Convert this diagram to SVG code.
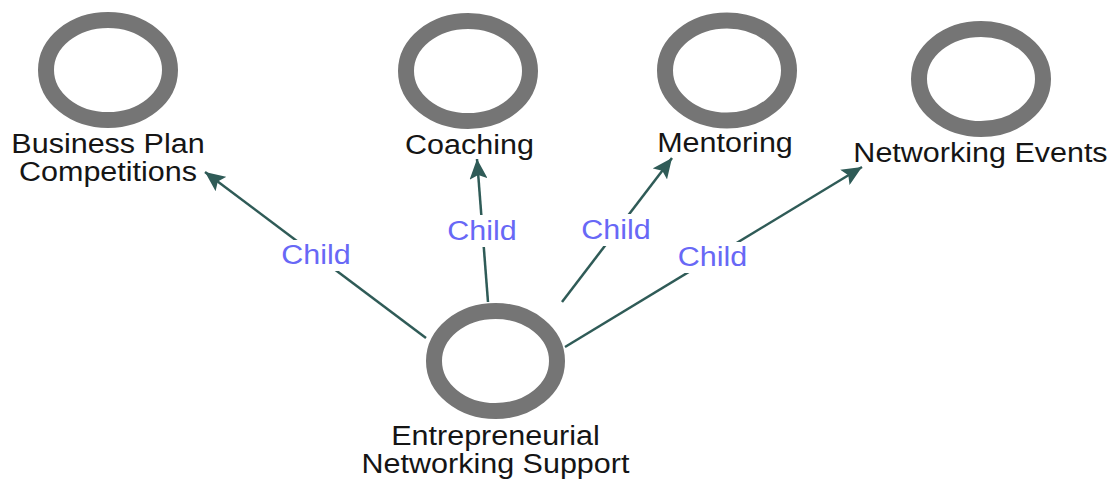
<svg xmlns="http://www.w3.org/2000/svg" width="1117" height="479" viewBox="0 0 1117 479">
  <style>
    .ring { fill: #ffffff; stroke: #757575; stroke-width: 16; }
    .lbl { font-family: "Liberation Sans", Arial, sans-serif; font-size: 28px; fill: #151515; text-anchor: middle; }
    .edge { stroke: #2f5b57; stroke-width: 2.5; fill: none; marker-end: url(#arrow); }
    .elbl { font-family: "Liberation Sans", Arial, sans-serif; font-size: 28px; fill: #6868f6; text-anchor: middle; }
    .lblbg { fill: #ffffff; }
  </style>
  <defs>
    <marker id="arrow" viewBox="0 0 20 18" refX="20" refY="9" markerWidth="20" markerHeight="18" markerUnits="userSpaceOnUse" orient="auto">
      <path d="M0,0 L20,9 L0,18 L4,9 Z" fill="#2f5b57"/>
    </marker>
  </defs>
  <rect x="0" y="0" width="1117" height="479" fill="#ffffff"/>

  <g id="connectors">
    <line class="edge" x1="426" y1="338" x2="205" y2="172"/>
    <line class="edge" x1="488" y1="302" x2="477" y2="159"/>
    <line class="edge" x1="562" y1="302" x2="672" y2="158"/>
    <line class="edge" x1="565" y1="347" x2="862" y2="167"/>
    <rect class="lblbg" x="279" y="240" width="74" height="31"/>
    <rect class="lblbg" x="445" y="215" width="74" height="32"/>
    <rect class="lblbg" x="579" y="214" width="74" height="32"/>
    <rect class="lblbg" x="675" y="242" width="75" height="31"/>
    <text class="elbl" transform="translate(316 263.5) scale(1.09 1)">Child</text>
    <text class="elbl" transform="translate(482 239.5) scale(1.09 1)">Child</text>
    <text class="elbl" transform="translate(616 238.5) scale(1.09 1)">Child</text>
    <text class="elbl" transform="translate(712.5 266) scale(1.09 1)">Child</text>
  </g>

  <g id="node-business-plan">
    <ellipse class="ring" cx="108" cy="70" rx="62" ry="50"/>
    <text class="lbl" transform="translate(108 153) scale(1.09 1)"><tspan x="0" y="0">Business Plan</tspan><tspan x="0" y="28.5">Competitions</tspan></text>
  </g>
  <g id="node-coaching">
    <ellipse class="ring" cx="468" cy="71" rx="62" ry="50"/>
    <text class="lbl" transform="translate(469.5 154) scale(1.09 1)">Coaching</text>
  </g>
  <g id="node-mentoring">
    <ellipse class="ring" cx="727" cy="70.5" rx="62" ry="50"/>
    <text class="lbl" transform="translate(725 152) scale(1.09 1)">Mentoring</text>
  </g>
  <g id="node-networking-events">
    <ellipse class="ring" cx="981" cy="79" rx="62" ry="50"/>
    <text class="lbl" transform="translate(980.5 161.5) scale(1.09 1)">Networking Events</text>
  </g>
  <g id="node-entrepreneurial">
    <ellipse class="ring" cx="495.5" cy="361" rx="61.5" ry="50"/>
    <text class="lbl" transform="translate(495.5 444.5) scale(1.09 1)"><tspan x="0" y="0">Entrepreneurial</tspan><tspan x="0" y="28.5">Networking Support</tspan></text>
  </g>
</svg>
